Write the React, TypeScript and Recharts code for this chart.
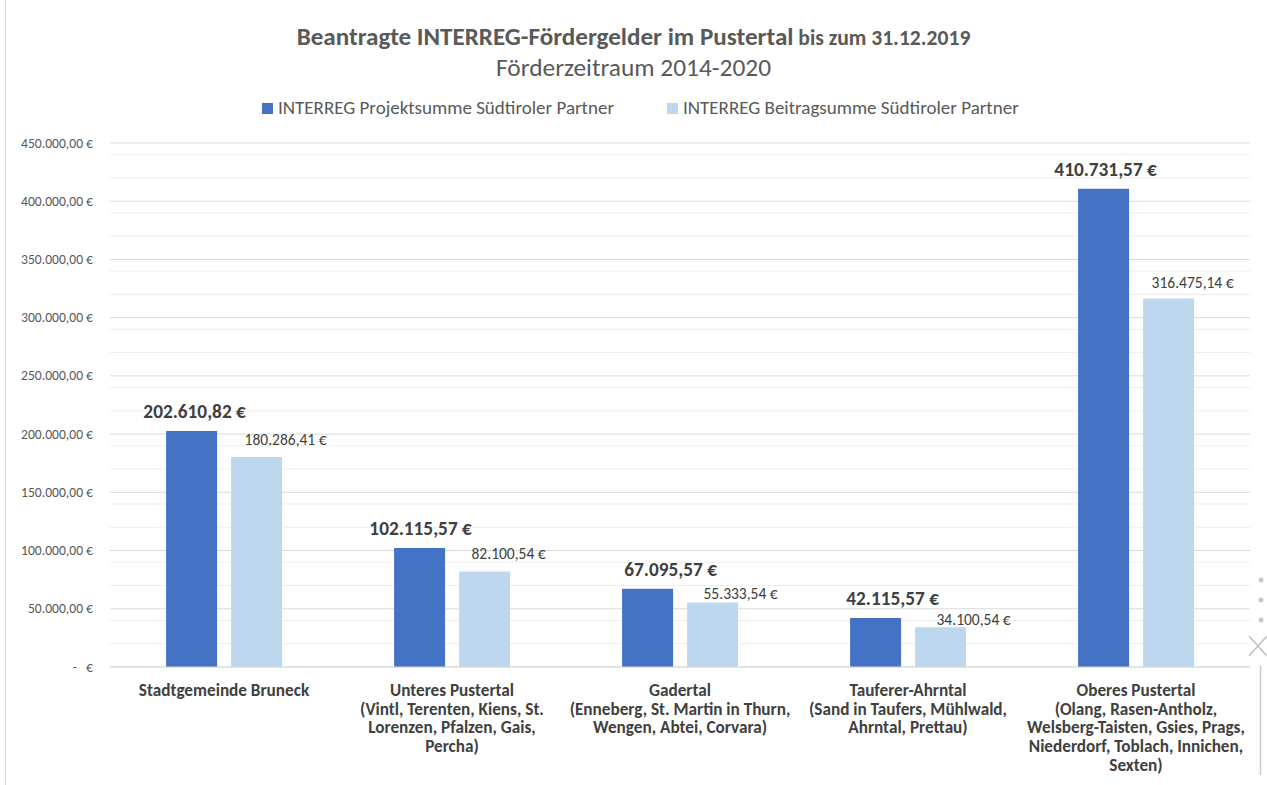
import React from 'react';
import { BarChart, Bar, XAxis, YAxis, CartesianGrid, LabelList } from 'recharts';

const categories = [
  'Stadtgemeinde Bruneck',
  'Unteres Pustertal',
  'Gadertal',
  'Tauferer-Ahrntal',
  'Oberes Pustertal',
];
const categoryDetails: string[][] = [
  [],
  ['(Vintl, Terenten, Kiens, St.', 'Lorenzen, Pfalzen, Gais,', 'Percha)'],
  ['(Enneberg, St. Martin in Thurn,', 'Wengen, Abtei, Corvara)'],
  ['(Sand in Taufers, Mühlwald,', 'Ahrntal, Prettau)'],
  ['(Olang, Rasen-Antholz,', 'Welsberg-Taisten, Gsies, Prags,', 'Niederdorf, Toblach, Innichen,', 'Sexten)'],
];
const projektsumme = [202610.82, 102115.57, 67095.57, 42115.57, 410731.57];
const beitragssumme = [180286.41, 82100.54, 55333.54, 34100.54, 316475.14];
const majorTicks = [0, 50000, 100000, 150000, 200000, 250000, 300000, 350000, 400000, 450000];
const minorTicks = [
  10000, 20000, 30000, 40000, 60000, 70000, 80000, 90000, 110000, 120000, 130000, 140000,
  160000, 170000, 180000, 190000, 210000, 220000, 230000, 240000, 260000, 270000, 280000, 290000,
  310000, 320000, 330000, 340000, 360000, 370000, 380000, 390000, 410000, 420000, 430000, 440000,
];
const seriesNames = ['INTERREG Projektsumme Südtiroler Partner', 'INTERREG Beitragsumme Südtiroler Partner'];

// label placement tweaks (pixels), as the labels were moved by hand in the original
const darkLabelDx = [3, 1, 23, 17, 2];
const lightLabelDx = [29, 24, 28, 33, 24];
const lightLabelRise = [17, 17, 9, 7, 15];

const data = categories.map((c, i) => ({
  name: c,
  projekt: projektsumme[i],
  beitrag: beitragssumme[i],
}));

const FONT = "Carlito, 'Open Sans', sans-serif";
const DARK = '#4472C4';
const LIGHT = '#BDD7EE';

function fmt(v: number): string {
  const fixed = v.toFixed(2);
  const [intPart, dec] = fixed.split('.');
  const withDots = intPart.replace(/\B(?=(\d{3})+(?!\d))/g, '.');
  return `${withDots},${dec} €`;
}

const YTick = (props: any) => {
  const { y, payload } = props;
  const label = payload.value === 0 ? '-   €' : fmt(payload.value);
  return (
    <text x={93} y={y + 4.5} textAnchor="end" fontSize={13.6} fill="#595959" fontFamily={FONT} style={{ whiteSpace: 'pre' }}>
      {label}
    </text>
  );
};

const XTick = (props: any) => {
  const { x, payload, index } = props;
  const i = typeof index === 'number' ? index : categories.indexOf(payload.value);
  const lines = [categories[i], ...(categoryDetails[i] || [])];
  return (
    <text x={x} y={696} textAnchor="middle" fontSize={17.2} fontWeight="bold" fill="#404040" fontFamily={FONT}>
      {lines.map((l, k) => (
        <tspan key={k} x={x} dy={k === 0 ? 0 : 18.7}>{l}</tspan>
      ))}
    </text>
  );
};

const DarkLabel = (props: any) => {
  const { x, y, width, value, index } = props;
  const dx = darkLabelDx[index] ?? 0;
  return (
    <text x={x + width / 2 + dx} y={y - 13} textAnchor="middle" fontSize={19.3} fontWeight="bold" fill="#404040" fontFamily={FONT}>
      {fmt(value)}
    </text>
  );
};

const LightLabel = (props: any) => {
  const { x, y, width, value, index } = props;
  const dx = lightLabelDx[index] ?? 0;
  const rise = lightLabelRise[index] ?? 16;
  return (
    <text x={x + width / 2 + dx} y={y - rise + 5} textAnchor="middle" fontSize={15.5} fill="#404040" fontFamily={FONT}>
      {fmt(value)}
    </text>
  );
};

export default function App() {
  return (
    <div style={{ position: 'absolute', left: 0, top: 0, width: 1267, height: 785, background: '#fff', overflow: 'hidden', fontFamily: FONT }}>
      <div style={{ position: 'absolute', left: 0, top: 22, width: 1267, textAlign: 'center', color: '#595959', lineHeight: '30px', whiteSpace: 'nowrap' }}>
        <span style={{ fontSize: 25.1, fontWeight: 'bold' }}>Beantragte INTERREG-Fördergelder im Pustertal</span>
        <span style={{ fontSize: 21.6, fontWeight: 'bold' }}> bis zum 31.12.2019</span>
      </div>
      <div style={{ position: 'absolute', left: 0, top: 53, width: 1267, textAlign: 'center', color: '#595959', fontSize: 25.4, lineHeight: '30px' }}>
        Förderzeitraum 2014-2020
      </div>
      <div style={{ position: 'absolute', left: 262, top: 97, fontSize: 19, lineHeight: '22px', color: '#595959', whiteSpace: 'nowrap', display: 'flex', alignItems: 'center' }}>
        <span style={{ display: 'inline-block', width: 11, height: 11, background: DARK, marginRight: 5 }} />
        <span>{seriesNames[0]}</span>
      </div>
      <div style={{ position: 'absolute', left: 667, top: 97, fontSize: 19, lineHeight: '22px', color: '#595959', whiteSpace: 'nowrap', display: 'flex', alignItems: 'center' }}>
        <span style={{ display: 'inline-block', width: 11, height: 11, background: LIGHT, marginRight: 5 }} />
        <span>{seriesNames[1]}</span>
      </div>
      <div style={{ position: 'absolute', left: 0, top: 0 }}>
        <BarChart
          width={1267}
          height={785}
          data={data}
          margin={{ top: 143, right: 17, bottom: 0, left: 8 }}
          barCategoryGap="24.6%"
          barGap={14}
        >
          <CartesianGrid vertical={false} stroke="#EEEEEE" horizontalValues={minorTicks} />
          <CartesianGrid vertical={false} stroke="#D9D9D9" horizontalValues={majorTicks} />
          <XAxis
            dataKey="name"
            interval={0}
            height={118}
            axisLine={{ stroke: '#D9D9D9' }}
            tickLine={false}
            tick={<XTick />}
          />
          <YAxis
            width={102}
            domain={[0, 450000]}
            ticks={majorTicks}
            axisLine={false}
            tickLine={false}
            tick={<YTick />}
          />
          <Bar dataKey="projekt" fill={DARK} isAnimationActive={false}>
            <LabelList dataKey="projekt" content={<DarkLabel />} />
          </Bar>
          <Bar dataKey="beitrag" fill={LIGHT} isAnimationActive={false}>
            <LabelList dataKey="beitrag" content={<LightLabel />} />
          </Bar>
        </BarChart>
      </div>
      <svg width={1267} height={785} style={{ position: 'absolute', left: 0, top: 0, pointerEvents: 'none' }}>
        <line x1={5.5} y1={0} x2={5.5} y2={785} stroke="#D9D9D9" strokeWidth={1} />
        <circle cx={1261} cy={580} r={2.5} fill="#C8C8C8" />
        <circle cx={1261} cy={600} r={2.5} fill="#C8C8C8" />
        <circle cx={1261} cy={620} r={2.5} fill="#C8C8C8" />
        <line x1={1249} y1={636} x2={1267} y2={656} stroke="#BDBDBD" strokeWidth={1.5} />
        <line x1={1249} y1={656} x2={1267} y2={636} stroke="#BDBDBD" strokeWidth={1.5} />
        <line x1={1260.5} y1={666} x2={1260.5} y2={775} stroke="#C8C8C8" strokeWidth={1.5} />
      </svg>
    </div>
  );
}
